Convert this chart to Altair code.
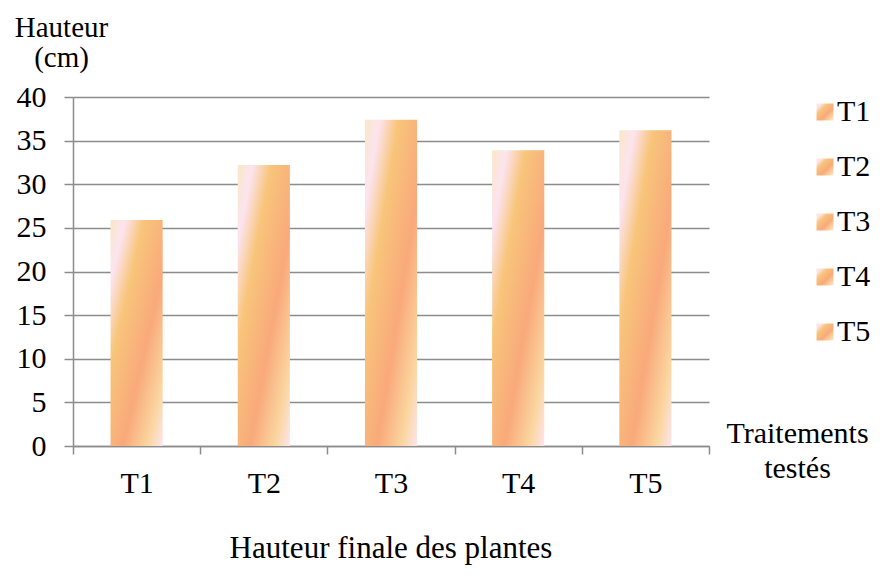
import altair as alt
import pandas as pd

categories = ["T1", "T2", "T3", "T4", "T5"]
heights = [25.9, 32.2, 37.4, 33.9, 36.2]
y_ticks = [0, 5, 10, 15, 20, 25, 30, 35, 40]

y_title = ["Hauteur", "(cm)"]
x_title = ["Traitements", "testés"]
chart_title = "Hauteur finale des plantes"

stop_offsets = [0, 0.14, 0.32, 0.62, 0.85, 1]
stop_colors = ["#FBE7C6", "#FCE4F0", "#F8C57A", "#F9A97B", "#FAD59E", "#FDE5EC"]

FONT = "Tinos"
GRID = "#8c8c8c"

stops_expr = ", ".join(
    "{offset: %s, color: '%s'}" % (o, c) for o, c in zip(stop_offsets, stop_colors)
)
gradient_expr = "{gradient: 'linear', x1: 0, y1: 0, x2: 1, y2: 1, stops: [%s]}" % stops_expr

df = pd.DataFrame({"cat": categories, "h": heights})

chart = (
    alt.Chart(df)
    .mark_bar(width={"band": 0.41})
    .encode(
        x=alt.X(
            "cat:N",
            sort=categories,
            scale=alt.Scale(paddingInner=0, paddingOuter=0),
            axis=alt.Axis(
                title=x_title,
                titleFont=FONT,
                titleFontSize=30,
                titleFontWeight="normal",
                titleColor="black",
                titleAlign="center",
                titleBaseline="alphabetic",
                titleAngle=0,
                titleX=724,
                titleY=-4,
                titleLineHeight=35,
                labelFont=FONT,
                labelFontSize=30,
                labelColor="black",
                labelAngle=0,
                labelPadding=14,
                tickBand="extent",
                tickSize=8,
                tickColor=GRID,
                tickWidth=1.5,
                domainColor=GRID,
                domainWidth=1.5,
                grid=False,
            ),
        ),
        y=alt.Y(
            "h:Q",
            scale=alt.Scale(domain=[0, 40], nice=False),
            axis=alt.Axis(
                values=y_ticks,
                title=y_title,
                titleFont=FONT,
                titleFontSize=29,
                titleFontWeight="normal",
                titleColor="black",
                titleAngle=0,
                titleAlign="center",
                titleBaseline="alphabetic",
                titleX=-12,
                titleY=-61,
                titleLineHeight=30,
                labelFont=FONT,
                labelFontSize=30,
                labelColor="black",
                labelPadding=18,
                tickSize=9,
                tickColor=GRID,
                tickWidth=1.5,
                domainColor=GRID,
                domainWidth=1.5,
                grid=True,
                gridColor=GRID,
                gridWidth=1.5,
            ),
        ),
        color=alt.Color(
            "cat:N",
            sort=categories,
            scale=alt.Scale(domain=categories, range=[{"expr": gradient_expr}] * len(categories)),
            legend=alt.Legend(
                title=None,
                orient="none",
                legendX=737,
                legendY=0,
                symbolType="square",
                symbolSize=289,
                symbolStrokeWidth=0,
                labelFont=FONT,
                labelFontSize=30,
                labelColor="black",
                labelOffset={"expr": "-3"},
                rowPadding=25,
            ),
        ),
    )
    .properties(
        width=636,
        height=349,
        autosize=alt.AutoSizeParams(type="none"),
        padding={"left": 65, "top": 89, "right": 163, "bottom": 120},
        title=alt.TitleParams(
            text=chart_title,
            orient="bottom",
            anchor="middle",
            font=FONT,
            fontSize=31,
            fontWeight="normal",
            color="black",
            offset=36,
        ),
    )
    .configure(font=FONT, background="white")
    .configure_view(stroke=None)
)

chart.save("out.html", embed_options={"renderer": "svg", "actions": False})
